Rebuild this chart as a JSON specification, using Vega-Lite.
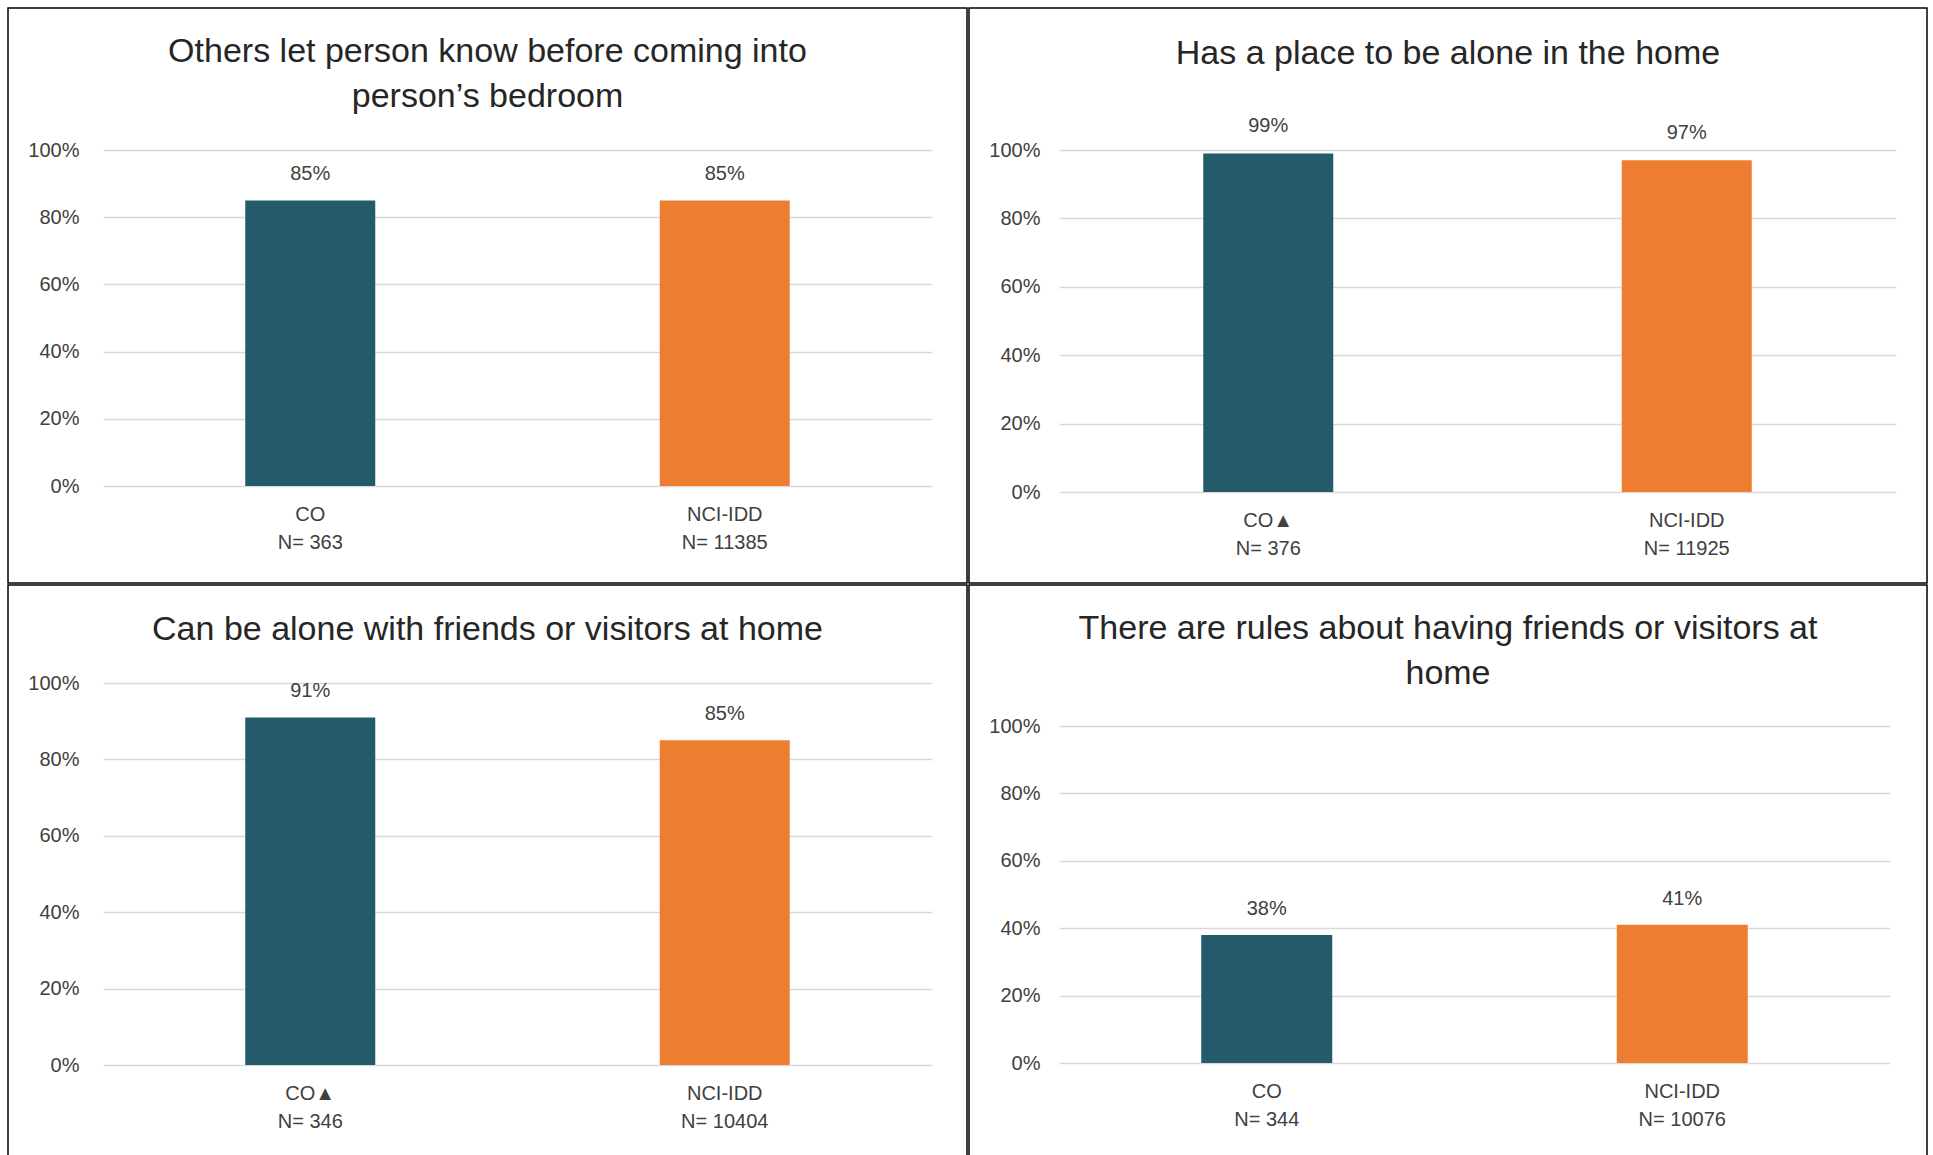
{
  "$schema": "https://vega.github.io/schema/vega-lite/v6.json",
  "background": "white",
  "padding": {"left": 7, "top": 7, "right": 0, "bottom": 0},
  "data": {"values": [
    {"panel": "p1", "group": "CO", "label": "CO|N= 363", "pct": 0.85},
    {"panel": "p1", "group": "NCI-IDD", "label": "NCI-IDD|N= 11385", "pct": 0.85},
    {"panel": "p2", "group": "CO", "label": "CO▲|N= 376", "pct": 0.99},
    {"panel": "p2", "group": "NCI-IDD", "label": "NCI-IDD|N= 11925", "pct": 0.97},
    {"panel": "p3", "group": "CO", "label": "CO▲|N= 346", "pct": 0.91},
    {"panel": "p3", "group": "NCI-IDD", "label": "NCI-IDD|N= 10404", "pct": 0.85},
    {"panel": "p4", "group": "CO", "label": "CO|N= 344", "pct": 0.38},
    {"panel": "p4", "group": "NCI-IDD", "label": "NCI-IDD|N= 10076", "pct": 0.41}
  ]},
  "spacing": 0,
  "vconcat": [
    {
      "spacing": 0,
      "hconcat": [
        {
          "width": 959, "height": 575,
          "title": {"text": ["Others let person know before coming into", "person’s bedroom"], "offset": -106},
          "transform": [{"filter": "datum.panel === 'p1'"}],
          "encoding": {
            "x": {"field": "label", "type": "nominal", "sort": null,
                  "scale": {"range": [95, 924], "paddingInner": 0, "paddingOuter": 0},
                  "axis": {"offset": -97}},
            "y": {"field": "pct", "type": "quantitative",
                  "scale": {"domain": [0, 1], "range": [478, 142], "nice": false},
                  "axis": {"offset": -95, "labelPadding": 24, "values": [0, 0.2, 0.4, 0.6, 0.8, 1]}}
          },
          "layer": [
            {"mark": {"type": "bar", "size": 130},
             "encoding": {"color": {"field": "group", "type": "nominal", "scale": {"domain": ["CO", "NCI-IDD"], "range": ["#235B6A", "#ED7D31"]}, "legend": null}}},
            {"mark": {"type": "text", "dy": -26},
             "encoding": {"text": {"field": "pct", "type": "quantitative", "format": ".0%"}}}
          ]
        },
        {
          "width": 958, "height": 575,
          "title": {"text": "Has a place to be alone in the home", "offset": -63},
          "transform": [{"filter": "datum.panel === 'p2'"}],
          "encoding": {
            "x": {"field": "label", "type": "nominal", "sort": null,
                  "scale": {"range": [90, 927], "paddingInner": 0, "paddingOuter": 0},
                  "axis": {"offset": -91}},
            "y": {"field": "pct", "type": "quantitative",
                  "scale": {"domain": [0, 1], "range": [484, 142], "nice": false},
                  "axis": {"offset": -90, "labelPadding": 19, "values": [0, 0.2, 0.4, 0.6, 0.8, 1]}}
          },
          "layer": [
            {"mark": {"type": "bar", "size": 130},
             "encoding": {"color": {"field": "group", "type": "nominal", "scale": {"domain": ["CO", "NCI-IDD"], "range": ["#235B6A", "#ED7D31"]}, "legend": null}}},
            {"mark": {"type": "text", "dy": -27},
             "encoding": {"text": {"field": "pct", "type": "quantitative", "format": ".0%"}}}
          ]
        }
      ],
      "resolve": {"scale": {"x": "independent", "y": "independent", "color": "shared"}}
    },
    {
      "spacing": 0,
      "hconcat": [
        {
          "width": 959, "height": 574,
          "title": {"text": "Can be alone with friends or visitors at home", "offset": -62},
          "transform": [{"filter": "datum.panel === 'p3'"}],
          "encoding": {
            "x": {"field": "label", "type": "nominal", "sort": null,
                  "scale": {"range": [95, 924], "paddingInner": 0, "paddingOuter": 0},
                  "axis": {"offset": -94}},
            "y": {"field": "pct", "type": "quantitative",
                  "scale": {"domain": [0, 1], "range": [480, 98], "nice": false},
                  "axis": {"offset": -95, "labelPadding": 24, "values": [0, 0.2, 0.4, 0.6, 0.8, 1]}}
          },
          "layer": [
            {"mark": {"type": "bar", "size": 130},
             "encoding": {"color": {"field": "group", "type": "nominal", "scale": {"domain": ["CO", "NCI-IDD"], "range": ["#235B6A", "#ED7D31"]}, "legend": null}}},
            {"mark": {"type": "text", "dy": -26},
             "encoding": {"text": {"field": "pct", "type": "quantitative", "format": ".0%"}}}
          ]
        },
        {
          "width": 958, "height": 574,
          "title": {"text": ["There are rules about having friends or visitors at", "home"], "offset": -106},
          "transform": [{"filter": "datum.panel === 'p4'"}],
          "encoding": {
            "x": {"field": "label", "type": "nominal", "sort": null,
                  "scale": {"range": [90, 921], "paddingInner": 0, "paddingOuter": 0},
                  "axis": {"offset": -96}},
            "y": {"field": "pct", "type": "quantitative",
                  "scale": {"domain": [0, 1], "range": [478, 141], "nice": false},
                  "axis": {"offset": -90, "labelPadding": 19, "values": [0, 0.2, 0.4, 0.6, 0.8, 1]}}
          },
          "layer": [
            {"mark": {"type": "bar", "size": 131},
             "encoding": {"color": {"field": "group", "type": "nominal", "scale": {"domain": ["CO", "NCI-IDD"], "range": ["#235B6A", "#ED7D31"]}, "legend": null}}},
            {"mark": {"type": "text", "dy": -26},
             "encoding": {"text": {"field": "pct", "type": "quantitative", "format": ".0%"}}}
          ]
        }
      ],
      "resolve": {"scale": {"x": "independent", "y": "independent", "color": "shared"}}
    }
  ],
  "resolve": {"scale": {"x": "independent", "y": "independent", "color": "shared"}},
  "config": {
    "font": "Liberation Sans",
    "view": {"stroke": "#000000", "strokeWidth": 1.5},
    "title": {"anchor": "middle", "frame": "group", "fontSize": 34, "lineHeight": 45, "fontWeight": "normal", "color": "#262626", "font": "Liberation Sans"},
    "text": {"fontSize": 20, "color": "#404040", "baseline": "middle", "font": "Liberation Sans"},
    "axisX": {"domain": false, "ticks": false, "grid": false, "title": null, "labelAngle": 0, "labelFontSize": 20, "labelColor": "#404040", "labelLineHeight": 28, "labelBaseline": "top", "labelPadding": 18, "labelLimit": 0, "labelExpr": "split(datum.label, '|')"},
    "axisY": {"domain": false, "ticks": false, "grid": true, "gridColor": "#D9D9D9", "gridWidth": 1.5, "title": null, "format": ".0%", "labelFontSize": 20, "labelColor": "#404040"}
  }
}
